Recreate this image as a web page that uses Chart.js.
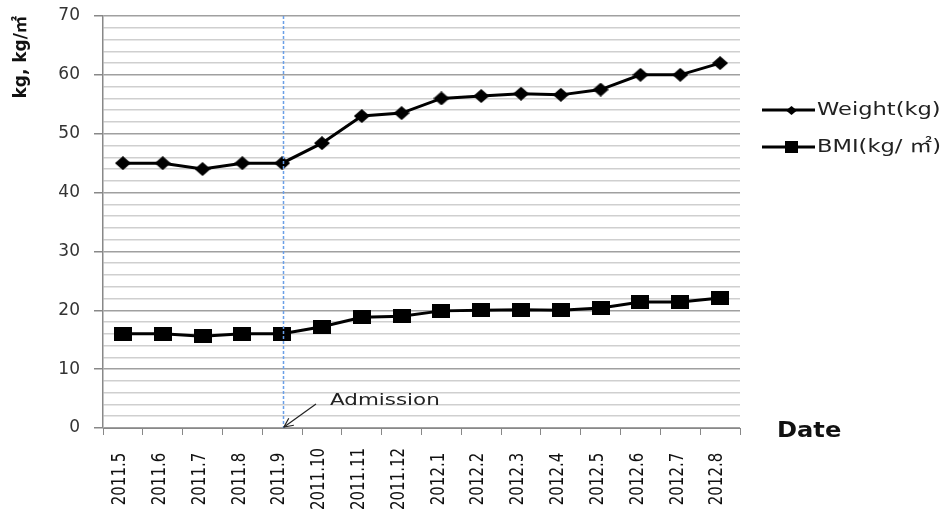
<!DOCTYPE html>
<html>
<head>
<meta charset="utf-8">
<script src="https://cdn.jsdelivr.net/npm/chart.js@4/dist/chart.umd.min.js"></script>
<style>
  html, body { margin: 0; padding: 0; background: #fff; }
  #wrap { width: 945px; height: 511px; position: relative; }
</style>
</head>
<body>
<div id="wrap"><canvas id="c" width="945" height="511"></canvas></div>
<script>
const categories = ['2011.5','2011.6','2011.7','2011.8','2011.9','2011.10','2011.11','2011.12',
                    '2012.1','2012.2','2012.3','2012.4','2012.5','2012.6','2012.7','2012.8'];
const weightKg = [45, 45, 44, 45, 45, 48.4, 53, 53.5, 56, 56.4, 56.8, 56.6, 57.5, 60, 60, 62];
const bmiValues = [16, 16, 15.6, 16, 16, 17.2, 18.8, 19, 19.9, 20, 20.1, 20, 20.4, 21.4, 21.4, 22.1];
const yMajorTicks = [0, 10, 20, 30, 40, 50, 60, 70];
const admissionCategory = '2011.9';
const admissionText = 'Admission';
const xAxisTitle = 'Date';
const yAxisTitle = 'kg, kg/㎡';

const FONT = "'DejaVu Sans', 'Noto Sans CJK KR', Verdana, sans-serif";

function makeMarker(kind, w, h) {
  const c = document.createElement('canvas');
  c.width = w; c.height = h;
  const g = c.getContext('2d');
  g.fillStyle = '#000';
  if (kind === 'diamond') {
    g.beginPath();
    g.moveTo(0, h / 2); g.lineTo(w / 2, 0); g.lineTo(w, h / 2); g.lineTo(w / 2, h);
    g.closePath(); g.fill();
  } else {
    g.fillRect(0, 0, w, h);
  }
  return c;
}
const diamondMarker = makeMarker('diamond', 16, 14);
const squareMarker = makeMarker('square', 18, 14);
const diamondLegend = makeMarker('diamond', 11, 9);
const squareLegend = makeMarker('square', 13, 12);

const overlay = {
  id: 'overlay',
  afterDraw(chart) {
    const ctx = chart.ctx;
    const xs = chart.scales.x, ys = chart.scales.y;
    const area = chart.chartArea;
    // x category labels (rotated, centred)
    ctx.save();
    ctx.fillStyle = '#111';
    ctx.font = '15px ' + FONT;
    ctx.textAlign = 'center';
    ctx.textBaseline = 'middle';
    chart.data.labels.forEach((lab, i) => {
      const x = xs.getPixelForValue(i);
      ctx.save();
      ctx.translate(x - 3, area.bottom + 51);
      ctx.scale(1.35, 1);
      ctx.rotate(-Math.PI / 2);
      ctx.fillText(lab, 0, 0);
      ctx.restore();
    });
    ctx.restore();

    // admission dashed line
    const ax = Math.round(xs.getPixelForValue(categories.indexOf(admissionCategory)));
    ctx.save();
    ctx.strokeStyle = '#6a9fe8';
    ctx.lineWidth = 1.5;
    ctx.setLineDash([3, 2]);
    ctx.beginPath();
    ctx.moveTo(ax + 1.5, area.top);
    ctx.lineTo(ax + 1.5, area.bottom);
    ctx.stroke();
    ctx.setLineDash([]);
    // arrow
    const tipX = ax + 2, tipY = ys.getPixelForValue(0) - 1;
    const startX = tipX + 32, startY = tipY - 23;
    ctx.strokeStyle = '#222';
    ctx.lineWidth = 1.2;
    ctx.beginPath();
    ctx.moveTo(startX, startY);
    ctx.lineTo(tipX, tipY);
    ctx.stroke();
    const ang = Math.atan2(tipY - startY, tipX - startX);
    const hl = 10;
    ctx.beginPath();
    ctx.moveTo(tipX - hl * Math.cos(ang - 0.45), tipY - hl * Math.sin(ang - 0.45));
    ctx.lineTo(tipX, tipY);
    ctx.lineTo(tipX - hl * Math.cos(ang + 0.45), tipY - hl * Math.sin(ang + 0.45));
    ctx.stroke();
    // admission text
    ctx.save();
    ctx.fillStyle = '#222';
    ctx.font = '16.5px ' + FONT;
    ctx.textAlign = 'left';
    ctx.textBaseline = 'alphabetic';
    ctx.translate(startX + 14, startY + 1);
    ctx.scale(1.3, 1);
    ctx.fillText(admissionText, 0, 0);
    ctx.restore();
    // Date title
    ctx.save();
    ctx.font = 'bold 21px ' + FONT;
    ctx.fillStyle = '#111';
    ctx.textAlign = 'left';
    ctx.textBaseline = 'middle';
    ctx.translate(area.right + 37, area.bottom + 4);
    ctx.scale(1.15, 1);
    ctx.fillText(xAxisTitle, 0, 0);
    ctx.restore();
    // legend
    const lx = area.right + 22;
    const rows = [area.top + 94, area.top + 131];
    chart.data.datasets.forEach((ds, i) => {
      const y = rows[i];
      ctx.strokeStyle = '#000';
      ctx.lineWidth = 3;
      ctx.beginPath();
      ctx.moveTo(lx, y);
      ctx.lineTo(lx + 53, y);
      ctx.stroke();
      const cx = lx + 29;
      const m = i === 0 ? diamondLegend : squareLegend;
      ctx.drawImage(m, Math.round(cx - m.width / 2), Math.round(y - m.height / 2));
      ctx.save();
      ctx.fillStyle = '#222';
      ctx.font = '18.5px ' + FONT;
      ctx.textAlign = 'left';
      ctx.textBaseline = 'middle';
      ctx.translate(lx + 55, y);
      ctx.scale(1.22, 1);
      ctx.fillText(ds.label, 0, 0);
      ctx.restore();
    });
    ctx.restore();
  }
};

new Chart(document.getElementById('c'), {
  type: 'line',
  data: {
    labels: categories,
    datasets: [
      {
        label: 'Weight(kg)',
        data: weightKg,
        borderColor: '#000',
        backgroundColor: '#000',
        borderWidth: 3,
        pointStyle: diamondMarker,
        tension: 0
      },
      {
        label: 'BMI(kg/ ㎡)',
        data: bmiValues,
        borderColor: '#000',
        backgroundColor: '#000',
        borderWidth: 3,
        pointStyle: squareMarker,
        tension: 0
      }
    ]
  },
  options: {
    responsive: false,
    animation: false,
    events: [],
    layout: { padding: { top: 16, right: 205, left: 0, bottom: 0 } },
    plugins: {
      legend: { display: false },
      tooltip: { enabled: false }
    },
    scales: {
      x: {
        type: 'category',
        offset: true,
        grid: {
          offset: true,
          drawOnChartArea: false,
          drawTicks: true,
          tickLength: 7,
          tickColor: '#888'
        },
        border: { display: true, color: '#888', width: 1 },
        ticks: { display: false },
        afterFit(scale) { scale.height = 83; }
      },
      y: {
        min: 0,
        max: 70,
        border: { display: true, color: '#888', width: 1.5 },
        grid: {
          color: (c) => (yMajorTicks.includes(c.tick.value) ? '#a0a0a0' : '#cfcfcf'),
          lineWidth: 1.5,
          tickColor: (c) => (yMajorTicks.includes(c.tick.value) ? '#888' : 'rgba(0,0,0,0)'),
          tickLength: 9
        },
        ticks: {
          stepSize: 2,
          autoSkip: false,
          padding: 14,
          color: '#333',
          font: { family: FONT, size: 17 },
          callback: (v) => (yMajorTicks.includes(v) ? String(v) : '')
        },
        title: {
          display: true,
          text: yAxisTitle,
          align: 'end',
          color: '#111',
          font: { family: FONT, size: 17, weight: 'bold' },
          padding: { top: 11, bottom: 0 }
        },
        afterFit(scale) {
          scale.width = 103;
          scale.paddingTop = 8;
          scale.paddingBottom = 8;
        }
      }
    }
  },
  plugins: [overlay]
});
</script>
</body>
</html>
